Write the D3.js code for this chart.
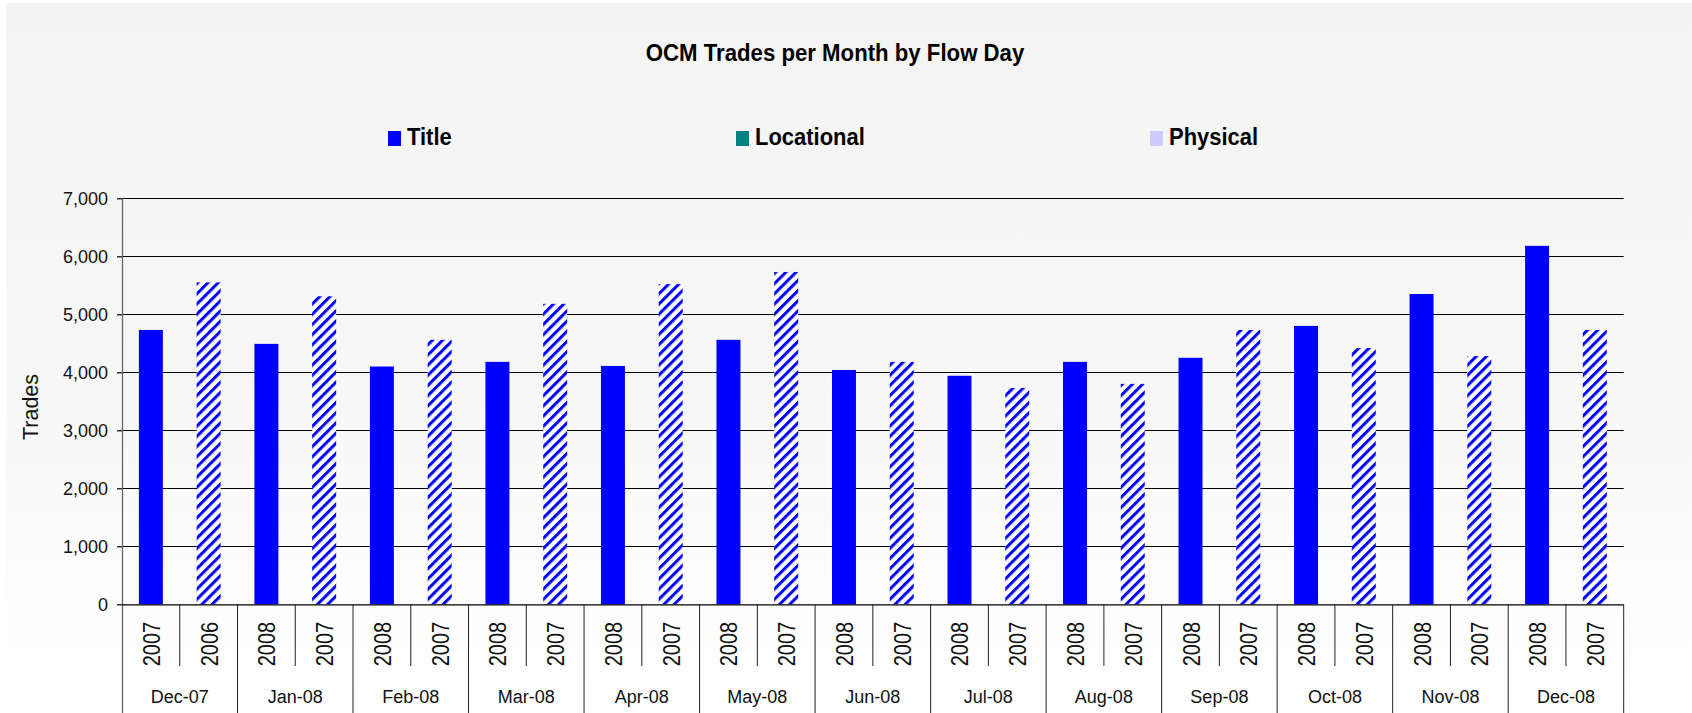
<!DOCTYPE html>
<html><head><meta charset="utf-8">
<script src="https://cdn.jsdelivr.net/npm/d3@7"></script>
<style>
body{margin:0;background:#fff;}
svg{display:block;font-family:"Liberation Sans",Arial,Helvetica,sans-serif;}
</style>
</head><body>
<svg id="chart" width="1692" height="713"></svg>
<script>
// ---- data ----
const months = ["Dec-07","Jan-08","Feb-08","Mar-08","Apr-08","May-08","Jun-08","Jul-08","Aug-08","Sep-08","Oct-08","Nov-08","Dec-08"];
const currentYears  = ["2007","2008","2008","2008","2008","2008","2008","2008","2008","2008","2008","2008","2008"];
const previousYears = ["2006","2007","2007","2007","2007","2007","2007","2007","2007","2007","2007","2007","2007"];
const currentTrades  = [4730,4490,4100,4180,4110,4560,4040,3940,4180,4250,4800,5350,6180];
const previousTrades = [5550,5310,4560,5180,5520,5730,4180,3730,3800,4730,4420,4280,4730];
const yTicks = [0,1000,2000,3000,4000,5000,6000,7000];
const legendLabels = ["Title","Locational","Physical"];
const legendColors = ["#0000ff","#008080","#ccccff"];
const chartTitle = "OCM Trades per Month by Flow Day";
const yAxisTitle = "Trades";

// ---- layout ----
const W = 1692, H = 713;
const plot = {left:122, right:1623.7, top:198.3, bottom:604.3};
const svg = d3.select("#chart");
const defs = svg.append("defs");

const bg = defs.append("linearGradient").attr("id","bg").attr("x1",0).attr("y1",0).attr("x2",0).attr("y2",1);
bg.append("stop").attr("offset","0%").attr("stop-color","#f4f4f4");
bg.append("stop").attr("offset","55%").attr("stop-color","#f7f7f7");
bg.append("stop").attr("offset","82%").attr("stop-color","#fdfdfd");
bg.append("stop").attr("offset","100%").attr("stop-color","#ffffff");
svg.append("rect").attr("x",6).attr("y",3).attr("width",W-6).attr("height",H-3).attr("fill","url(#bg)");

const pat = defs.append("pattern").attr("id","hatch").attr("patternUnits","userSpaceOnUse")
  .attr("width",7.2).attr("height",7.2).attr("patternTransform","rotate(45)");
pat.append("rect").attr("width",7.2).attr("height",7.2).attr("fill","#ffffff");
pat.append("rect").attr("width",3.0).attr("height",7.2).attr("fill","#0000ff");

// scales
const x0 = d3.scaleBand().domain(months).range([plot.left, plot.right]).padding(0);
const x1 = d3.scaleBand().domain(["cur","prev"]).range([0, x0.bandwidth()]).paddingInner(0.585).paddingOuter(0.2925);
const y = d3.scaleLinear().domain([0,7000]).range([plot.bottom, plot.top]);

// gridlines
svg.append("g").selectAll("line").data(yTicks.filter(d=>d>0)).join("line")
  .attr("x1",plot.left).attr("x2",plot.right)
  .attr("y1",d=>Math.round(y(d))+0.5).attr("y2",d=>Math.round(y(d))+0.5)
  .attr("stroke","#000").attr("stroke-width",1.2);

// bars
const rows = months.map((m,i)=>({month:m,
  items:[{k:"cur",year:currentYears[i],v:currentTrades[i]},{k:"prev",year:previousYears[i],v:previousTrades[i]}]}));
const groups = svg.append("g").selectAll("g").data(rows).join("g")
  .attr("transform",d=>`translate(${x0(d.month)},0)`);
groups.selectAll("rect").data(d=>d.items).join("rect")
  .attr("x",d=>x1(d.k)).attr("width",x1.bandwidth())
  .attr("y",d=>y(d.v)).attr("height",d=>y(0)-y(d.v))
  .attr("fill",d=>d.k==="cur"?"#0000ff":"url(#hatch)");

// y axis
const yAxis = svg.append("g").attr("transform",`translate(${plot.left},0)`)
  .call(d3.axisLeft(y).tickValues(yTicks).tickSize(5).tickPadding(9).tickFormat(d3.format(",")));
yAxis.select(".domain").remove();
yAxis.selectAll(".tick line").attr("stroke","#000").attr("stroke-width",1.2);
yAxis.selectAll(".tick text").attr("font-size",18).attr("fill","#111")
  .attr("font-family","Liberation Sans, Arial, sans-serif");
// vertical axis line
svg.append("line").attr("x1",plot.left+0.5).attr("x2",plot.left+0.5).attr("y1",plot.top).attr("y2",H)
  .attr("stroke","#666").attr("stroke-width",1.3);
// x axis line
svg.append("line").attr("x1",plot.left).attr("x2",plot.right).attr("y1",plot.bottom+0.5).attr("y2",plot.bottom+0.5)
  .attr("stroke","#000").attr("stroke-width",1.2);

// x category dividers
const xg = svg.append("g");
xg.selectAll("line.inner").data(months).join("line").attr("class","inner")
  .attr("x1",d=>x0(d)+x0.bandwidth()/2).attr("x2",d=>x0(d)+x0.bandwidth()/2)
  .attr("y1",plot.bottom).attr("y2",666).attr("stroke","#222").attr("stroke-width",1);
xg.selectAll("line.outer").data(months.slice(1).concat(["__end"])).join("line").attr("class","outer")
  .attr("x1",d=>d==="__end"?plot.right:x0(d)).attr("x2",d=>d==="__end"?plot.right:x0(d))
  .attr("y1",plot.bottom).attr("y2",H).attr("stroke","#222").attr("stroke-width",1);

// year labels
const yl = svg.append("g");
rows.forEach(r=>{
  r.items.forEach(it=>{
    const cx = x0(r.month)+x1(it.k)+x1.bandwidth()/2;
    yl.append("text").attr("transform",`translate(${cx+9},644) rotate(-90) scale(0.87,1)`)
      .attr("text-anchor","middle").attr("font-size",23).attr("fill","#111").text(it.year);
  });
});
// month labels
svg.append("g").selectAll("text").data(months).join("text")
  .attr("x",d=>x0(d)+x0.bandwidth()/2).attr("y",703).attr("text-anchor","middle")
  .attr("font-size",18).attr("fill","#111").text(d=>d);

// y axis title
svg.append("text").attr("transform","translate(38,407) rotate(-90)").attr("text-anchor","middle")
  .attr("font-size",21.5).attr("fill","#111").text(yAxisTitle);

// chart title
svg.append("text").attr("transform","translate(835,61) scale(0.925,1)").attr("text-anchor","middle")
  .attr("font-size",24).attr("font-weight","bold").attr("fill","#000").text(chartTitle);

// legend
const legendX = [388,736,1150];
const lg = svg.append("g").selectAll("g").data(legendLabels).join("g")
  .attr("transform",(d,i)=>`translate(${legendX[i]},131)`);
lg.append("rect").attr("width",13).attr("height",15).attr("fill",(d,i)=>legendColors[i]);
lg.append("text").attr("transform","translate(19,14) scale(0.915,1)")
  .attr("font-size",24).attr("font-weight","bold").attr("fill","#000").text(d=>d);
</script>
</body></html>
